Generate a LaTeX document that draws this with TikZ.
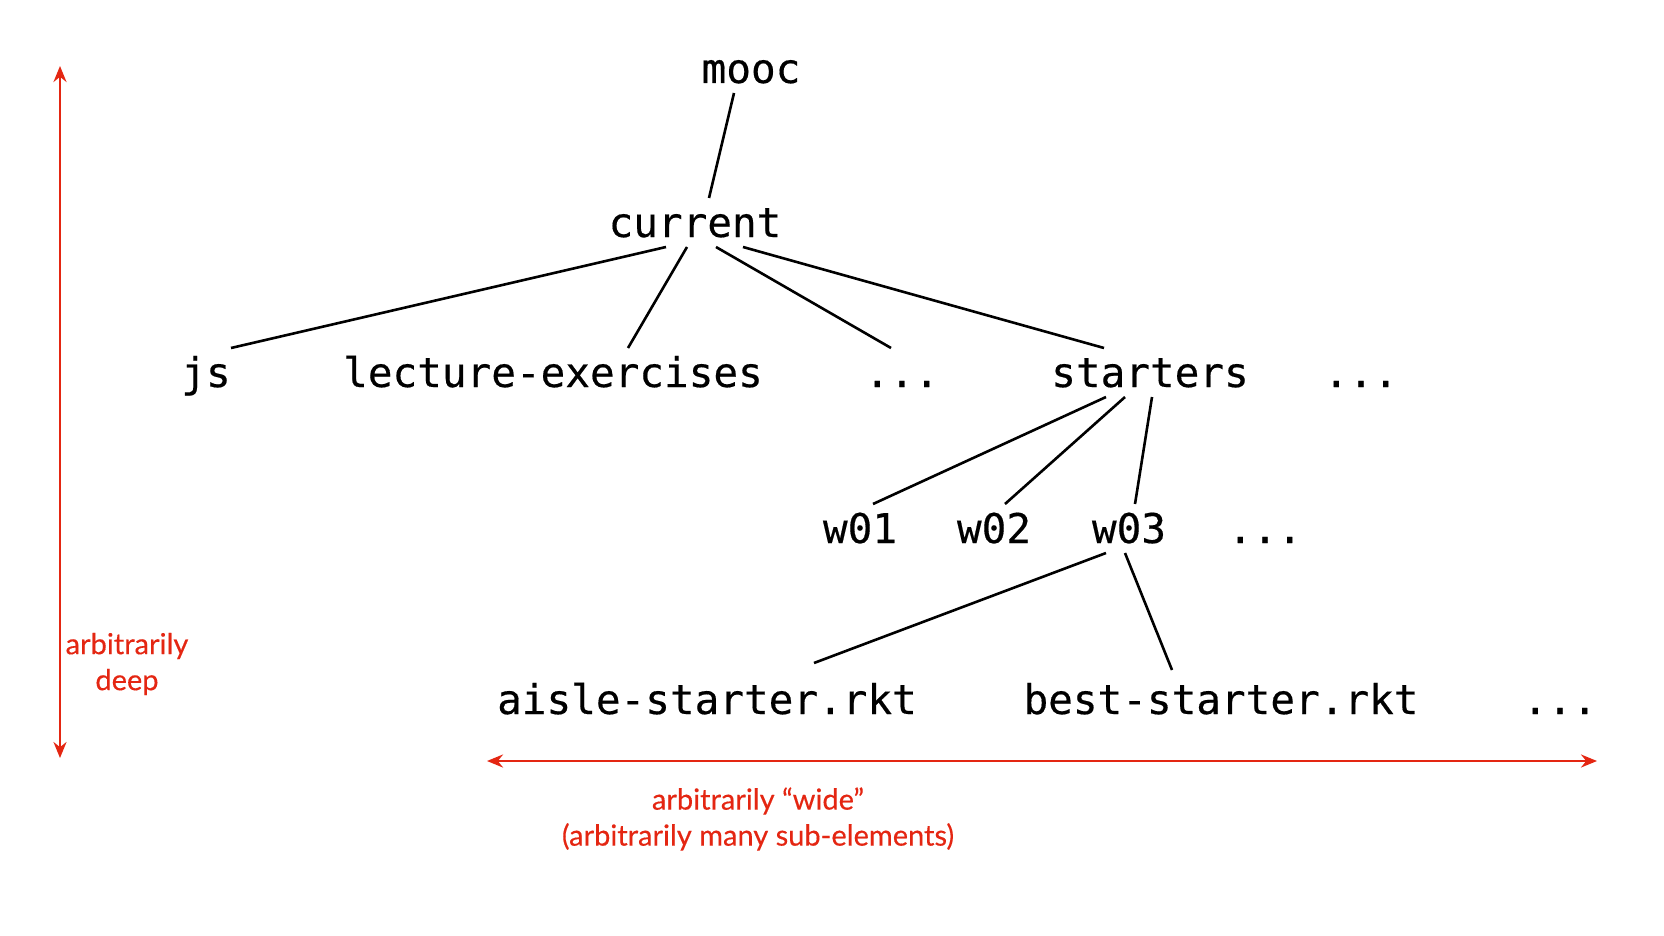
\documentclass[tikz,border=0pt]{standalone}
\usepackage{fontspec}
\setmonofont[FakeBold=0.4]{DejaVu Sans Mono}
\newfontfamily\notefont[FakeBold=0.3]{Lato}
\usetikzlibrary{positioning}
\usetikzlibrary{arrows.meta}
\definecolor{notered}{RGB}{228,38,18}

\begin{document}
\begin{tikzpicture}[x=1pt, y=-1pt,
dirnode/.style={inner sep=0pt, outer sep=10pt, anchor=base, text height=29pt, text depth=0pt, font=\ttfamily\fontsize{41}{48}\selectfont},
notenode/.style={text=notered, align=center, font=\notefont\fontsize{29}{36}\selectfont},
link/.style={line width=2.6pt},
span/.style={notered, line width=2.6pt, {Stealth[length=16pt,width=13pt]}-{Stealth[length=16pt,width=13pt]}},
]
\useasboundingbox (0,0) rectangle (1664,936);

%Nodes
\node[dirnode] (mooc)     at (751,83)  {mooc};
\node[dirnode] (current)  at (695,237) {current};
\node[dirnode] (js)       at (206,387) {js};
\node[dirnode] (lecture)  at (553,387) {lecture-exercises};
\node[dirnode] (dotsa)    at (902,387) {...};
\node[dirnode] (starters) at (1150,387) {starters};
\node[dirnode] (dotsb)    at (1361,387) {...};
\node[dirnode] (wa)       at (860,543) {w01};
\node[dirnode] (wb)       at (994,543) {w02};
\node[dirnode] (wc)       at (1129,543) {w03};
\node[dirnode] (dotsc)    at (1265,543) {...};
\node[dirnode] (aisle)    at (707,714) {aisle-starter.rkt};
\node[dirnode] (best)     at (1221,714) {best-starter.rkt};
\node[dirnode] (dotsd)    at (1560,714) {...};

\coordinate (deeptop) at (60,66);
\coordinate (deepbot) at (60,758);
\coordinate (wideleft) at (487,761);
\coordinate (wideright) at (1597,761);

\node[notenode] (deep) at (127,664) {arbitrarily\\deep};
\node[notenode] (wide) at (758,819) {arbitrarily “wide”\\(arbitrarily many sub-elements)};

%Lines
\draw[link] ([xshift=-17pt]mooc.south) -- ([xshift=14pt]current.north);
\draw[link] ([xshift=-29pt]current.south) -- ([xshift=25pt]js.north);
\draw[link] ([xshift=-8pt]current.south) -- ([xshift=75pt]lecture.north);
\draw[link] ([xshift=21pt]current.south) -- ([xshift=-11pt]dotsa.north);
\draw[link] ([xshift=48pt]current.south) -- ([xshift=-46pt]starters.north);
\draw[link] ([xshift=-44pt]starters.south) -- ([xshift=13pt]wa.north);
\draw[link] ([xshift=-25pt]starters.south) -- ([xshift=11pt]wb.north);
\draw[link] ([xshift=2pt]starters.south) -- ([xshift=6pt]wc.north);
\draw[link] ([xshift=-23pt]wc.south) -- ([xshift=107pt,yshift=12pt]aisle.north);
\draw[link] ([xshift=-4pt]wc.south) -- ([xshift=-49pt,yshift=5pt]best.north);

\draw[span] (deeptop) -- (deepbot);
\draw[span] (wideleft) -- (wideright);
\end{tikzpicture}
\end{document}
